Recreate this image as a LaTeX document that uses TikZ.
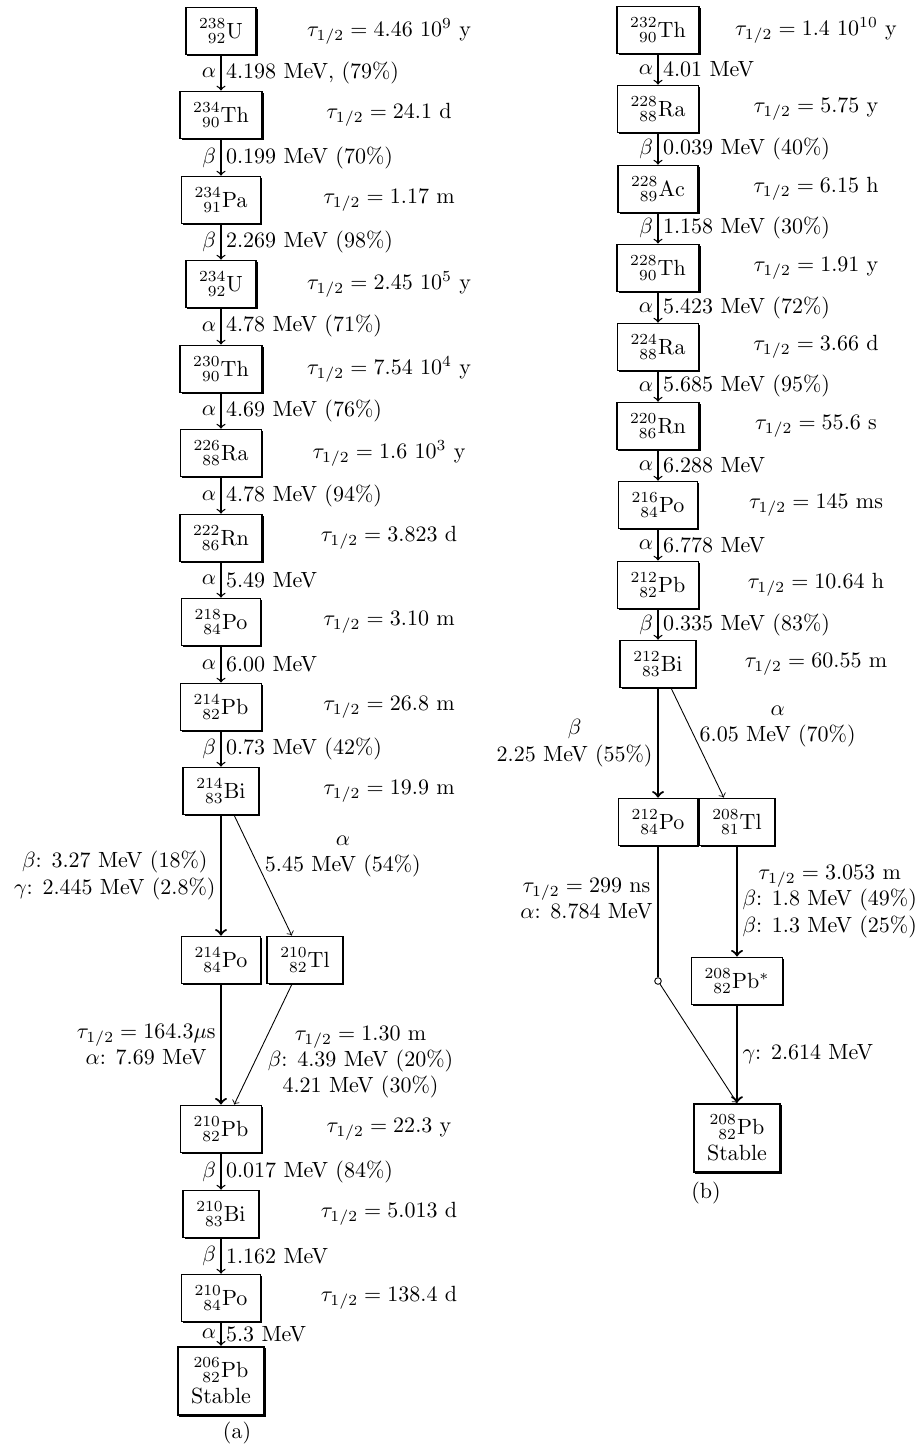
\documentclass[tikz,border=0pt]{standalone}
\usepackage{mathtools}
\usetikzlibrary{shadows}

\newcommand{\nuc}[3]{$\prescript{#1}{#2}{\mathrm{#3}}$}
\newcommand{\thalf}[1]{$\tau_{1/2} = #1$}

\begin{document}
\begin{tikzpicture}[x=0.4545pt, y=-0.4545pt,
    nuc node/.style={draw, fill=white, line width=0.8pt, inner xsep=6pt, inner ysep=5pt, align=center,
      drop shadow={shadow xshift=0.7pt, shadow yshift=-0.7pt, opacity=1, fill=black}},
    chain/.style={->, line width=0.6pt},
    long/.style={line width=1pt},
    branch/.style={line width=0.4pt}]

  \useasboundingbox (0,0) rectangle (917,1444);

  % (a) uranium series
  \node[nuc node] (u238) at (221, 31) {\nuc{238}{92}{U}};
  \node[nuc node] (th234) at (221, 115) {\nuc{234}{90}{Th}};
  \node[nuc node] (pa234) at (221, 200) {\nuc{234}{91}{Pa}};
  \node[nuc node] (u234) at (221, 284) {\nuc{234}{92}{U}};
  \node[nuc node] (th230) at (221, 369) {\nuc{230}{90}{Th}};
  \node[nuc node] (ra226) at (221, 453) {\nuc{226}{88}{Ra}};
  \node[nuc node] (rn222) at (221, 538) {\nuc{222}{86}{Rn}};
  \node[nuc node] (po218) at (221, 622) {\nuc{218}{84}{Po}};
  \node[nuc node] (pb214) at (221, 707) {\nuc{214}{82}{Pb}};
  \node[nuc node] (bi214) at (221, 791) {\nuc{214}{83}{Bi}};
  \node[nuc node] (po214) at (221, 960) {\nuc{214}{84}{Po}};
  \node[nuc node] (tl210) at (305, 960) {\nuc{210}{82}{Tl}};
  \node[nuc node] (pb210) at (221, 1129) {\nuc{210}{82}{Pb}};
  \node[nuc node] (bi210) at (221, 1214) {\nuc{210}{83}{Bi}};
  \node[nuc node] (po210) at (221, 1298) {\nuc{210}{84}{Po}};
  \node[nuc node] (pb206) at (221, 1381) {\nuc{206}{82}{Pb}\\Stable};
  \node (capa) at (237, 1433) {(a)};

  \node (tu238) at (389, 31) {\thalf{4.46\ 10^{9}} y};
  \node (tth234) at (389, 115) {\thalf{24.1} d};
  \node (tpa234) at (389, 200) {\thalf{1.17} m};
  \node (tu234) at (389, 284) {\thalf{2.45\ 10^{5}} y};
  \node (tth230) at (389, 369) {\thalf{7.54\ 10^{4}} y};
  \node (tra226) at (389, 453) {\thalf{1.6\ 10^{3}} y};
  \node (trn222) at (389, 538) {\thalf{3.823} d};
  \node (tpo218) at (389, 622) {\thalf{3.10} m};
  \node (tpb214) at (389, 707) {\thalf{26.8} m};
  \node (tbi214) at (389, 791) {\thalf{19.9} m};
  \node (tpb210) at (389, 1129) {\thalf{22.3} y};
  \node (tbi210) at (389, 1214) {\thalf{5.013} d};
  \node (tpo210) at (389, 1298) {\thalf{138.4} d};

  \path[chain, every node/.style={inner sep=2pt}]
  (u238) edge node [left] {$\alpha$} node [right] {4.198 MeV, (79\%)} (th234)
  (th234) edge node [left] {$\beta$} node [right] {0.199 MeV (70\%)} (pa234)
  (pa234) edge node [left] {$\beta$} node [right] {2.269 MeV (98\%)} (u234)
  (u234) edge node [left] {$\alpha$} node [right] {4.78 MeV (71\%)} (th230)
  (th230) edge node [left] {$\alpha$} node [right] {4.69 MeV (76\%)} (ra226)
  (ra226) edge node [left] {$\alpha$} node [right] {4.78 MeV (94\%)} (rn222)
  (rn222) edge node [left] {$\alpha$} node [right] {5.49 MeV} (po218)
  (po218) edge node [left] {$\alpha$} node [right] {6.00 MeV} (pb214)
  (pb214) edge node [left] {$\beta$} node [right] {0.73 MeV (42\%)} (bi214)
  (pb210) edge node [left] {$\beta$} node [right] {0.017 MeV (84\%)} (bi210)
  (bi210) edge node [left] {$\beta$} node [right] {1.162 MeV} (po210)
  (po210) edge node [left] {$\alpha$} node [right] {5.3 MeV} (pb206);

  \path[->, every node/.style={inner sep=2pt, align=center}]
  (bi214) edge [long] node [left] {$\beta$: 3.27 MeV (18\%)\\$\gamma$: 2.445 MeV (2.8\%)} (po214)
  ([xshift=6pt]bi214.south) edge [branch] node [right, pos=0.45, yshift=6pt] {$\alpha$\\5.45 MeV (54\%)} ([xshift=-6pt]tl210.north)
  (po214) edge [long] node [left] {\thalf{164.3\mu}s\\$\alpha$: 7.69 MeV} (pb210)
  ([xshift=-6pt]tl210.south) edge [branch] node [right, pos=0.5, yshift=-8pt] {\thalf{1.30} m\\$\beta$: 4.39 MeV (20\%)\\4.21 MeV (30\%)} ([xshift=6pt]pb210.north);

  % (b) thorium series
  \node[nuc node] (th232) at (658, 30) {\nuc{232}{90}{Th}};
  \node[nuc node] (ra228) at (658, 109) {\nuc{228}{88}{Ra}};
  \node[nuc node] (ac228) at (658, 189) {\nuc{228}{89}{Ac}};
  \node[nuc node] (th228) at (658, 268) {\nuc{228}{90}{Th}};
  \node[nuc node] (ra224) at (658, 347) {\nuc{224}{88}{Ra}};
  \node[nuc node] (rn220) at (658, 426) {\nuc{220}{86}{Rn}};
  \node[nuc node] (po216) at (658, 505) {\nuc{216}{84}{Po}};
  \node[nuc node] (pb212) at (658, 585) {\nuc{212}{82}{Pb}};
  \node[nuc node] (bi212) at (658, 664) {\nuc{212}{83}{Bi}};
  \node[nuc node] (po212) at (658, 822) {\nuc{212}{84}{Po}};
  \node[nuc node] (tl208) at (737, 822) {\nuc{208}{81}{Tl}};
  \node[nuc node] (pb208x) at (737, 981) {$\prescript{208}{82}{\mathrm{Pb}}^{*}$};
  \node[nuc node] (pb208) at (737, 1138) {\nuc{208}{82}{Pb}\\Stable};
  \node[circle, draw, fill=white, inner sep=0pt, minimum size=3pt, line width=0.4pt] (knot) at (658, 981) {};
  \node (capb) at (706, 1193) {(b)};

  \node (tth232) at (816, 30) {\thalf{1.4\ 10^{10}} y};
  \node (tra228) at (816, 109) {\thalf{5.75} y};
  \node (tac228) at (816, 189) {\thalf{6.15} h};
  \node (tth228) at (816, 268) {\thalf{1.91} y};
  \node (tra224) at (816, 347) {\thalf{3.66} d};
  \node (trn220) at (816, 426) {\thalf{55.6} s};
  \node (tpo216) at (816, 505) {\thalf{145} ms};
  \node (tpb212) at (816, 585) {\thalf{10.64} h};
  \node (tbi212) at (816, 664) {\thalf{60.55} m};

  \path[chain, every node/.style={inner sep=2pt}]
  (th232) edge node [left] {$\alpha$} node [right] {4.01 MeV} (ra228)
  (ra228) edge node [left] {$\beta$} node [right] {0.039 MeV (40\%)} (ac228)
  (ac228) edge node [left] {$\beta$} node [right] {1.158 MeV (30\%)} (th228)
  (th228) edge node [left] {$\alpha$} node [right] {5.423 MeV (72\%)} (ra224)
  (ra224) edge node [left] {$\alpha$} node [right] {5.685 MeV (95\%)} (rn220)
  (rn220) edge node [left] {$\alpha$} node [right] {6.288 MeV} (po216)
  (po216) edge node [left] {$\alpha$} node [right] {6.778 MeV} (pb212)
  (pb212) edge node [left] {$\beta$} node [right] {0.335 MeV (83\%)} (bi212);

  \path[->, every node/.style={inner sep=2pt, align=center}]
  (bi212) edge [long] node [left] {$\beta$\\2.25 MeV (55\%)} (po212)
  ([xshift=6pt]bi212.south) edge [branch] node [right, pos=0.45, yshift=5pt] {$\alpha$\\6.05 MeV (70\%)} ([xshift=-6pt]tl208.north)
  (po212) edge [long, -] node [left, yshift=6pt] {\thalf{299} ns\\$\alpha$: 8.784 MeV} (knot)
  (knot) edge [branch] (pb208.north)
  (tl208) edge [long] node [right] {\thalf{3.053} m\\$\beta$: 1.8 MeV (49\%)\\$\beta$: 1.3 MeV (25\%)} (pb208x)
  (pb208x) edge [long] node [right] {$\gamma$: 2.614 MeV} (pb208);

\end{tikzpicture}
\end{document}
